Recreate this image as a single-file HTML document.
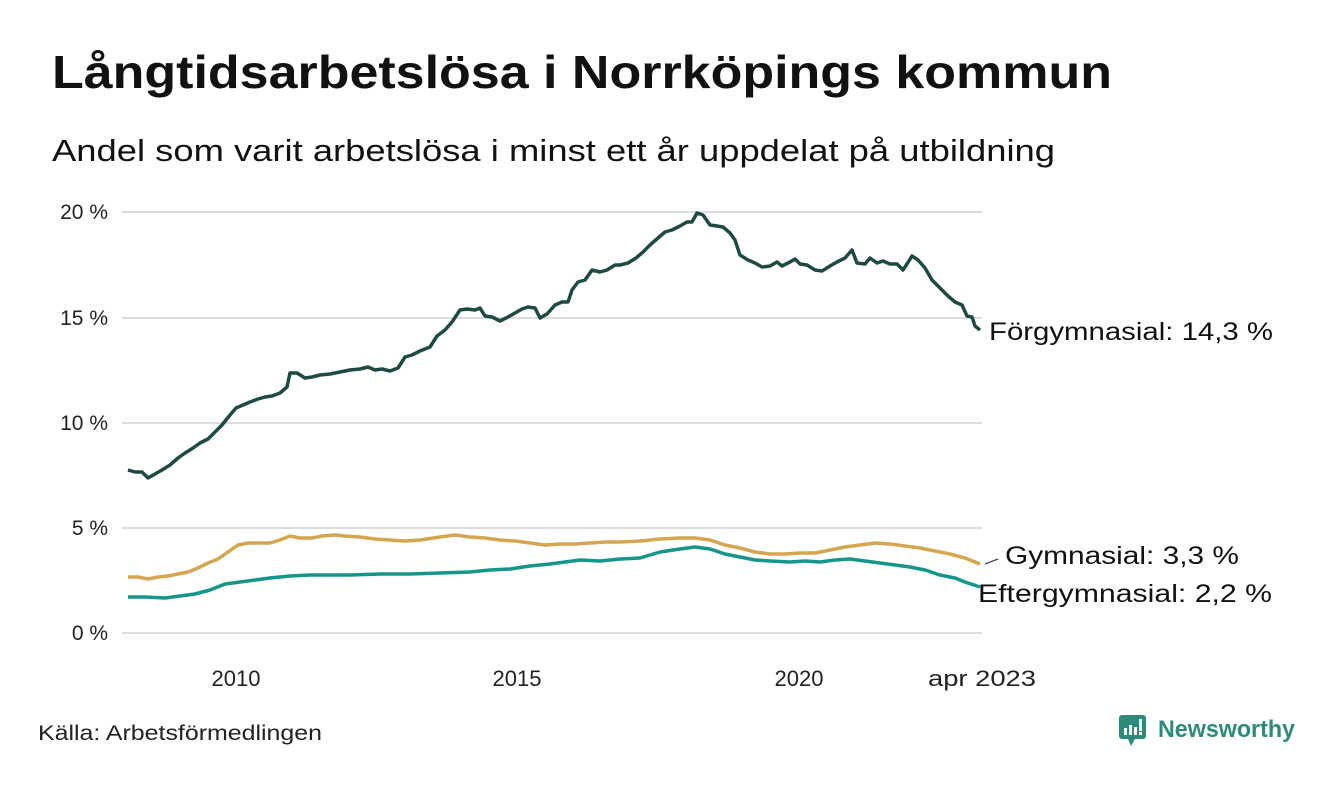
<!DOCTYPE html><html><head><meta charset="utf-8"><style>
body{margin:0;background:#fff;width:1340px;height:780px;overflow:hidden;font-family:"Liberation Sans",sans-serif}
</style></head><body>
<svg width="1340" height="780" xmlns="http://www.w3.org/2000/svg" font-family="Liberation Sans, sans-serif">
<text x="52" y="88" font-size="46" font-weight="bold" fill="#111" textLength="1060" lengthAdjust="spacingAndGlyphs">Långtidsarbetslösa i Norrköpings kommun</text>
<text x="52" y="161" font-size="31" fill="#111" textLength="1003" lengthAdjust="spacingAndGlyphs">Andel som varit arbetslösa i minst ett år uppdelat på utbildning</text>
<g stroke="#ddd" stroke-width="2">
<line x1="122" y1="212" x2="982" y2="212"/><line x1="122" y1="318" x2="982" y2="318"/><line x1="122" y1="423" x2="982" y2="423"/><line x1="122" y1="528" x2="982" y2="528"/><line x1="122" y1="633" x2="982" y2="633"/>
</g>
<g font-size="21" fill="#222" text-anchor="end">
<text x="108" y="219">20 %</text><text x="108" y="325">15 %</text><text x="108" y="430">10 %</text><text x="108" y="535">5 %</text><text x="108" y="640">0 %</text>
</g>
<g font-size="22" fill="#222" text-anchor="middle">
<text x="236" y="686">2010</text><text x="517" y="686">2015</text><text x="799" y="686">2020</text><text x="982" y="686" textLength="108" lengthAdjust="spacingAndGlyphs">apr 2023</text>
</g>
<g fill="none" stroke-width="3.5" stroke-linejoin="round">
<polyline stroke="#d4a650" points="128,577 138,577 148,579 158,577 168,576 178,574 188,572 198,568 208,563 218,559 228,552 238,545 248,543 258,543 270,543 280,540 290,536 300,538 312,538 322,536 335,535 345,536 360,537 375,539 390,540 405,541 420,540 440,537 455,535 470,537 485,538 500,540 515,541 530,543 545,545 560,544 575,544 590,543 605,542 620,542 640,541 660,539 680,538 695,538 710,540 725,545 740,548 755,552 770,554 785,554 800,553 815,553 830,550 845,547 860,545 875,543 890,544 905,546 920,548 935,551 950,554 965,558 980,564"/>
<polyline stroke="#14968a" points="128,597 145,597 165,598 180,596 195,594 210,590 225,584 240,582 255,580 270,578 290,576 310,575 330,575 350,575 380,574 410,574 440,573 470,572 490,570 510,569 530,566 550,564 565,562 580,560 600,561 620,559 640,558 660,552 680,549 695,547 710,549 725,554 740,557 755,560 770,561 790,562 805,561 820,562 835,560 850,559 865,561 880,563 895,565 910,567 925,570 940,575 955,578 965,582 980,587"/>
<polyline stroke="#1f4a42" points="128,470 135,472 142,472 148,478 155,474 162,470 170,465 178,458 185,453 193,448 200,443 208,439 215,432 222,425 230,415 236,408 243,405 250,402 258,399 265,397 272,396 280,393 287,387 290,373 297,373 305,378 312,377 320,375 330,374 340,372 350,370 360,369 368,367 375,370 382,369 390,371 398,368 405,357 412,355 420,351 430,347 437,336 445,330 452,322 460,310 467,309 475,310 480,308 485,316 492,317 500,321 508,317 515,313 522,309 528,307 535,308 540,318 547,314 555,305 562,302 568,302 572,290 578,282 585,280 592,270 600,272 607,270 615,265 620,265 628,263 636,258 643,252 650,245 658,238 665,232 672,230 680,226 687,222 692,222 697,213 703,215 710,225 717,226 723,227 730,233 735,240 740,255 748,260 755,263 762,267 770,266 777,262 782,266 790,262 795,259 800,264 807,265 815,270 822,271 830,266 837,262 845,258 852,250 857,263 865,264 870,258 877,263 883,261 890,264 897,264 903,270 907,264 912,256 918,260 925,268 932,280 940,288 948,296 955,302 962,305 967,316 972,317 975,326 980,330"/>
</g>
<line x1="985" y1="564" x2="998" y2="559" stroke="#222" stroke-width="1"/>
<g font-size="25" fill="#111">
<text x="989" y="340" textLength="284" lengthAdjust="spacingAndGlyphs">Förgymnasial: 14,3 %</text>
<text x="1005" y="564" textLength="234" lengthAdjust="spacingAndGlyphs">Gymnasial:  3,3 %</text>
<text x="978" y="602" textLength="294" lengthAdjust="spacingAndGlyphs">Eftergymnasial:  2,2 %</text>
</g>
<text x="38" y="740" font-size="21" fill="#222" textLength="284" lengthAdjust="spacingAndGlyphs">Källa: Arbetsförmedlingen</text>
<g transform="translate(1119,715)">
<rect x="0" y="0" width="27" height="24" rx="3" fill="#2e8b7a"/>
<polygon points="9,24 16,24 12,31" fill="#2e8b7a"/>
<rect x="5" y="13" width="3" height="7" fill="#fff"/><rect x="10" y="10" width="3" height="10" fill="#fff"/><rect x="15" y="12" width="3" height="8" fill="#fff"/><rect x="20" y="4" width="3" height="12" fill="#fff"/><rect x="20" y="17" width="3" height="3" fill="#fff"/>
</g>
<text x="1158" y="737" font-size="24" font-weight="bold" fill="#2e8b7a" textLength="137" lengthAdjust="spacingAndGlyphs">Newsworthy</text>
</svg>
</body></html>
